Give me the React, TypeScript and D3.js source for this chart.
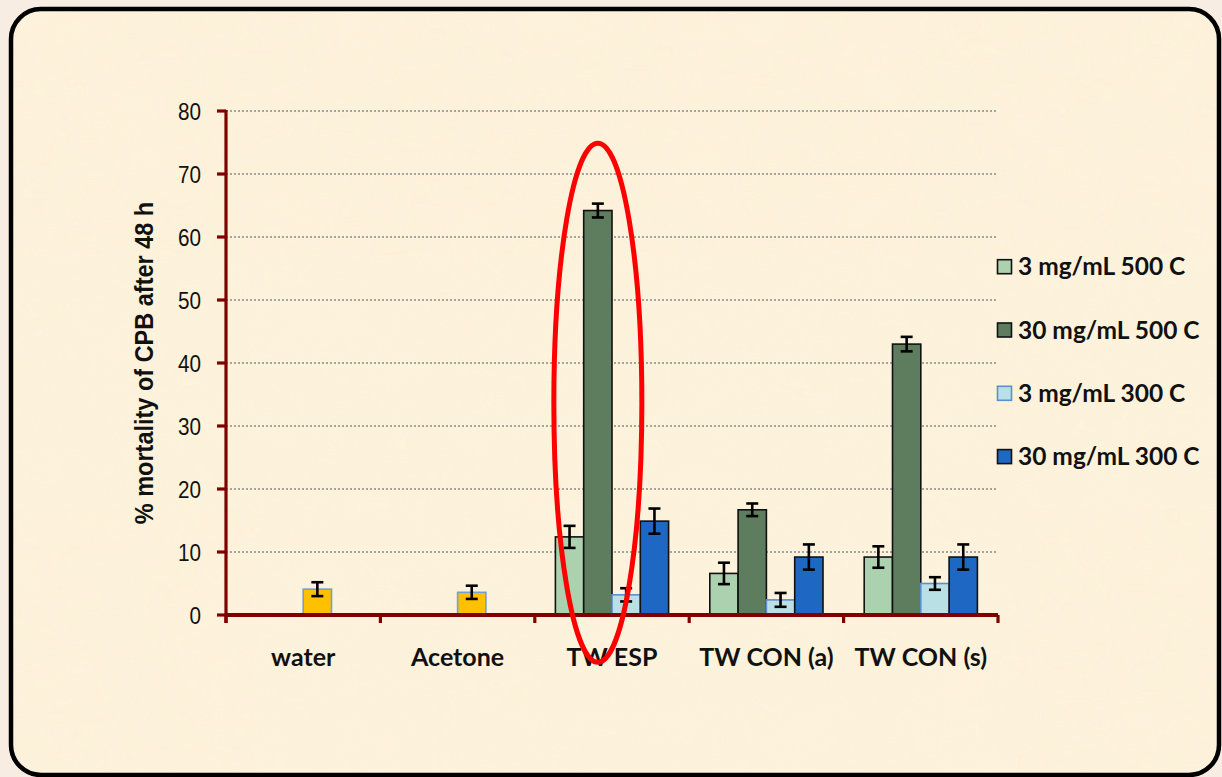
import React from "react";
import * as d3 from "d3";

// Treatments along the x axis
const categories = ["water", "Acetone", "TW ESP", "TW CON (a)", "TW CON (s)"];
// Controls are drawn in the third slot in gold
const controlCategories = ["water", "Acetone"];

const seriesNames = ["3 mg/mL 500 C", "30 mg/mL 500 C", "3 mg/mL 300 C", "30 mg/mL 300 C"];

// Mean % mortality per series (null = not tested)
const mg3At500 = [null, null, 12.4, 6.6, 9.2];
const mg30At500 = [null, null, 64.2, 16.7, 43.0];
const mg3At300 = [4.1, 3.6, 3.2, 2.4, 5.0];
const mg30At300 = [null, null, 14.9, 9.2, 9.2];

// Error bar half-widths
const mg3At500Err = [0, 0, 1.75, 1.7, 1.7];
const mg30At500Err = [0, 0, 1.1, 1.0, 1.15];
const mg3At300Err = [1.1, 1.05, 1.05, 1.1, 1.0];
const mg30At300Err = [0, 0, 2.0, 2.0, 2.0];

const yTicks = [0, 10, 20, 30, 40, 50, 60, 70, 80];

const seriesValues = [mg3At500, mg30At500, mg3At300, mg30At300];
const seriesErrors = [mg3At500Err, mg30At500Err, mg3At300Err, mg30At300Err];
const seriesFill = ["#ACD1AF", "#5E7D5E", "#B9E0E4", "#1E67C3"];
const seriesStroke = ["#111", "#111", "#5B8FCF", "#111"];
const controlFill = "#FFC000";
const controlStroke = "#6FA0D6";

const W = 1222;
const H = 777;
const axisColor = "#800000";

export default function App() {
  const x = d3.scaleBand<string>().domain(categories).range([226, 998]).paddingInner(0).paddingOuter(0);
  const xs = d3
    .scaleBand<string>()
    .domain(seriesNames)
    .range([0, x.bandwidth()])
    .paddingInner(0)
    .paddingOuter(0.728);
  const y = d3.scaleLinear().domain([0, 80]).range([615, 111]);

  const bars: React.ReactNode[] = [];
  const errs: React.ReactNode[] = [];
  seriesNames.forEach((s, si) => {
    categories.forEach((c, ci) => {
      const v = seriesValues[si][ci];
      if (v == null) return;
      const isCtrl = controlCategories.includes(c);
      const bx = (x(c) as number) + (xs(s) as number);
      const bw = xs.bandwidth();
      bars.push(
        <rect
          key={`b-${si}-${ci}`}
          x={bx}
          y={y(v)}
          width={bw}
          height={y(0) - y(v)}
          fill={isCtrl ? controlFill : seriesFill[si]}
          stroke={isCtrl ? controlStroke : seriesStroke[si]}
          strokeWidth={1.6}
        />
      );
      const e = seriesErrors[si][ci];
      if (e > 0) {
        const cx = bx + bw / 2;
        errs.push(
          <g key={`e-${si}-${ci}`} stroke="#000" strokeWidth={2.6}>
            <line x1={cx} x2={cx} y1={y(v + e)} y2={y(v - e)} />
            <line x1={cx - 6} x2={cx + 6} y1={y(v + e)} y2={y(v + e)} />
            <line x1={cx - 6} x2={cx + 6} y1={y(v - e)} y2={y(v - e)} />
          </g>
        );
      }
    });
  });

  // highlight around the strongest treatment bar
  const hiCat = "TW ESP";
  const hiSeries = seriesNames[1];
  const hx = (x(hiCat) as number) + (xs(hiSeries) as number) + xs.bandwidth() / 2;
  const hTop = y(74.9);
  const hBottom = y(-7.5);

  const catLabelFont = "Lato, 'Open Sans', sans-serif";
  const numFont = "'Liberation Sans', Arial, sans-serif";

  return (
    <svg
      width={W}
      height={H}
      viewBox={`0 0 ${W} ${H}`}
      style={{ position: "absolute", left: 0, top: 0, display: "block" }}
    >
      <defs>
        <filter id="parchment" x="0" y="0" width="100%" height="100%">
          <feTurbulence type="fractalNoise" baseFrequency="0.012 0.02" numOctaves={3} seed={4} result="noise" />
          <feColorMatrix
            in="noise"
            type="matrix"
            values="0 0 0 0 0.93  0 0 0 0 0.86  0 0 0 0 0.68  0 0 0 0.4 -0.08"
          />
        </filter>
        <clipPath id="frameClip">
          <rect x={11} y={9} width={1208} height={766} rx={30} />
        </clipPath>
      </defs>

      <rect x={0} y={0} width={W} height={H} fill="#F8EDE2" />
      <rect x={11} y={9} width={1208} height={766} rx={30} fill="#FDF2DB" />
      <rect x={11} y={9} width={1208} height={766} fill="#000" filter="url(#parchment)" clipPath="url(#frameClip)" opacity={0.6} />
      <rect x={11} y={9} width={1208} height={766} rx={30} fill="none" stroke="#000" strokeWidth={4.5} />

      {/* horizontal dotted gridlines */}
      {yTicks
        .filter((t) => t > 0)
        .map((t) => (
          <line
            key={`g-${t}`}
            x1={226}
            x2={998}
            y1={y(t)}
            y2={y(t)}
            stroke="#8A8A8A"
            strokeWidth={1.4}
            strokeDasharray="2 2"
          />
        ))}

      {bars}
      {errs}

      {/* y axis */}
      <line x1={226} x2={226} y1={y(80) - 1} y2={y(0) + 8} stroke={axisColor} strokeWidth={3.2} />
      {yTicks.map((t) => (
        <g key={`yt-${t}`}>
          <line x1={217} x2={226} y1={y(t)} y2={y(t)} stroke={axisColor} strokeWidth={3.2} />
          <text
            transform={`translate(201, ${y(t) + 8.5}) scale(0.88, 1)`}
            textAnchor="end"
            fontFamily={numFont}
            fontSize={23.5}
            fill="#111"
          >
            {t}
          </text>
        </g>
      ))}

      {/* x axis */}
      <line x1={226} x2={998} y1={y(0)} y2={y(0)} stroke={axisColor} strokeWidth={4} />
      {categories.concat([""]).map((c, i) => {
        const tx = i < categories.length ? (x(c) as number) : 998;
        return <line key={`xt-${i}`} x1={tx} x2={tx} y1={y(0)} y2={y(0) + 8} stroke={axisColor} strokeWidth={3.2} />;
      })}
      {categories.map((c) => (
        <text
          key={`xl-${c}`}
          x={(x(c) as number) + x.bandwidth() / 2}
          y={666}
          textAnchor="middle"
          fontFamily={catLabelFont}
          fontWeight={700}
          fontSize={25}
          fill="#111"
        >
          {c}
        </text>
      ))}

      {/* y axis title */}
      <text
        transform={`translate(153, ${(y(0) + y(80)) / 2}) rotate(-90) scale(0.94, 1)`}
        textAnchor="middle"
        fontFamily={numFont}
        fontWeight={700}
        fontSize={25}
        fill="#111"
      >
        % mortality of CPB after 48 h
      </text>

      {/* legend */}
      {seriesNames.map((s, i) => {
        const cy = 266.7 + i * 63.3;
        return (
          <g key={`lg-${i}`}>
            <rect
              x={997.5}
              y={cy - 7}
              width={14}
              height={14}
              fill={seriesFill[i]}
              stroke={seriesStroke[i]}
              strokeWidth={1.6}
            />
            <text x={1018} y={cy + 8.5} fontFamily={catLabelFont} fontWeight={700} fontSize={24.5} fill="#111">
              {s}
            </text>
          </g>
        );
      })}

      {/* highlight ellipse */}
      <ellipse
        cx={hx}
        cy={(hTop + hBottom) / 2}
        rx={44}
        ry={(hBottom - hTop) / 2}
        fill="none"
        stroke="#FF0000"
        strokeWidth={5}
      />
    </svg>
  );
}
